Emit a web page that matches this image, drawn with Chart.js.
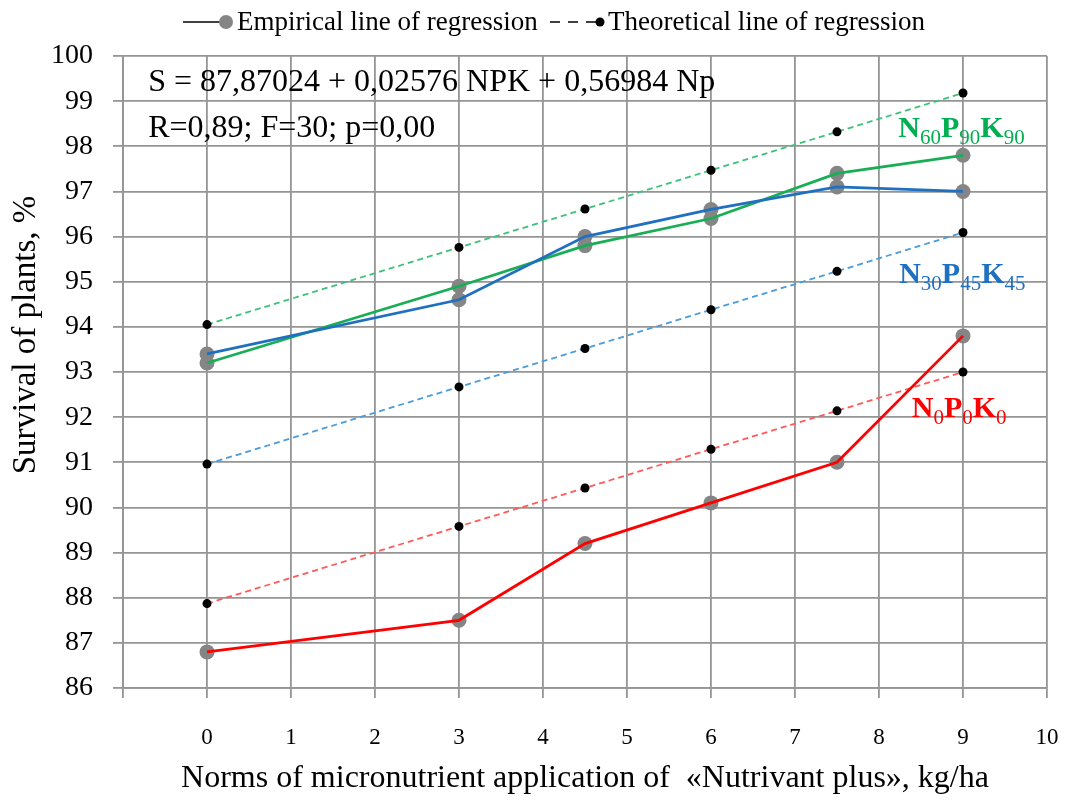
<!DOCTYPE html>
<html>
<head>
<meta charset="utf-8">
<script src="https://cdn.jsdelivr.net/npm/chart.js@4.4.1/dist/chart.umd.min.js"></script>
<style>
  body { margin: 0; background: #fff; }
  #wrap { width: 1067px; height: 802px; }
</style>
</head>
<body>
<div id="wrap"><canvas id="survivalChart" width="1067" height="802"></canvas></div>
<script>
// normes d'application (kg/ha)
const normes = [0, 3, 4.5, 6, 7.5, 9];

// survie empirique, %
const empN0P0K0 = [86.8, 87.5, 89.2, 90.1, 91.0, 93.8];
const empN30P45K45 = [93.4, 94.6, 96.0, 96.6, 97.1, 97.0];
const empN60P90K90 = [93.2, 94.9, 95.8, 96.4, 97.4, 97.8];

// survie théorique (droite de régression), %
const theoN0P0K0 = [87.87, 89.58, 90.43, 91.29, 92.14, 93.00];
const theoN30P45K45 = [90.96, 92.67, 93.52, 94.38, 95.23, 96.09];
const theoN60P90K90 = [94.05, 95.76, 96.61, 97.47, 98.32, 99.18];

// graduations
const xTickValues = [0, 1, 2, 3, 4, 5, 6, 7, 8, 9, 10];
const yTickValues = [86, 87, 88, 89, 90, 91, 92, 93, 94, 95, 96, 97, 98, 99, 100];

const legendLabels = ["Empirical line of regression", "Theoretical line of regression"];
const equationText = "S = 87,87024 + 0,02576 NPK + 0,56984 Np";
const statsText = "R=0,89; F=30; p=0,00";
const yTitle = "Survival of plants, %";

const SERIF = "'Liberation Serif', 'Times New Roman', serif";
Chart.defaults.font.family = SERIF;
Chart.defaults.color = "#000";

function pts(ys) {
  return normes.map(function (x, i) { return { x: x, y: ys[i] }; });
}

function empLine(ys, color) {
  return { data: pts(ys), showLine: true, borderColor: color, borderWidth: 2.8, pointRadius: 0,
           tension: 0, order: 1 };
}
function empMarkers(ys) {
  return { data: pts(ys), showLine: false, pointRadius: 7.5, pointBackgroundColor: "#858585",
           pointBorderWidth: 0, order: 3 };
}
function theoLine(ys, color) {
  return { data: pts(ys), showLine: true, borderColor: color, borderWidth: 1.8, borderDash: [6, 4],
           tension: 0, pointRadius: 4.5, pointBackgroundColor: "#000", pointBorderWidth: 0, order: 2 };
}

// texte avec indices (N60P90K90 ...)
function drawSub(ctx, parts, x, y, color) {
  ctx.fillStyle = color;
  ctx.textAlign = "left";
  ctx.textBaseline = "alphabetic";
  parts.forEach(function (p, i) {
    const isSub = i % 2 === 1;
    ctx.font = isSub ? "21px " + SERIF : "bold 30px " + SERIF;
    ctx.fillText(p, x, isSub ? y + 7 : y);
    x += ctx.measureText(p).width;
  });
}

const textPlugin = {
  id: "textPlugin",
  afterDraw: function (chart) {
    const ctx = chart.ctx;
    const xs = chart.scales.x, ys = chart.scales.y;
    ctx.save();

    // légende
    const ly = 22;
    ctx.strokeStyle = "#000";
    ctx.lineWidth = 1.5;
    ctx.beginPath(); ctx.moveTo(183, ly); ctx.lineTo(225, ly); ctx.stroke();
    ctx.fillStyle = "#858585";
    ctx.beginPath(); ctx.arc(226, ly, 7, 0, Math.PI * 2); ctx.fill();
    ctx.setLineDash([10, 8]);
    ctx.beginPath(); ctx.moveTo(550, ly); ctx.lineTo(600, ly); ctx.stroke();
    ctx.setLineDash([]);
    ctx.fillStyle = "#000";
    ctx.beginPath(); ctx.arc(600, ly, 4.5, 0, Math.PI * 2); ctx.fill();
    ctx.font = "27px " + SERIF;
    ctx.textBaseline = "middle";
    ctx.textAlign = "left";
    ctx.fillText(legendLabels[0], 237, ly + 1);
    ctx.fillText(legendLabels[1], 608, ly + 1);

    // titre de l'axe y
    ctx.save();
    ctx.translate(26, 335);
    ctx.rotate(-Math.PI / 2);
    ctx.textAlign = "center";
    ctx.font = "33px " + SERIF;
    ctx.fillText(yTitle, 0, 0);
    ctx.restore();

    // équation de régression
    ctx.font = "32px " + SERIF;
    ctx.fillText(equationText, xs.getPixelForValue(-0.7), ys.getPixelForValue(99.4));
    ctx.fillText(statsText, xs.getPixelForValue(-0.7), ys.getPixelForValue(98.4));

    // étiquettes des séries
    drawSub(ctx, ["N", "60", "P", "90", "K", "90"], xs.getPixelForValue(8.23), ys.getPixelForValue(98.2), "#00B050");
    drawSub(ctx, ["N", "30", "P", "45", "K", "45"], xs.getPixelForValue(8.24), ys.getPixelForValue(94.97), "#1F70C1");
    drawSub(ctx, ["N", "0", "P", "0", "K", "0"], xs.getPixelForValue(8.39), ys.getPixelForValue(92.0), "#FF0000");
    ctx.restore();
  }
};

window.addEventListener("DOMContentLoaded", function () {
  const ctx = document.getElementById("survivalChart").getContext("2d");

  new Chart(ctx, {
    type: "scatter",
    data: {
      datasets: [
        empMarkers(empN0P0K0),
        empMarkers(empN30P45K45),
        empMarkers(empN60P90K90),
        theoLine(theoN0P0K0, "#FF5A5A"),
        theoLine(theoN30P45K45, "#4A9CDB"),
        theoLine(theoN60P90K90, "#3CC27A"),
        empLine(empN0P0K0, "#FF0000"),
        empLine(empN30P45K45, "#1F70C1"),
        empLine(empN60P90K90, "#19AE55")
      ]
    },
    options: {
      responsive: false,
      animation: false,
      events: [],
      layout: { padding: { left: 0, right: 20, top: 56, bottom: 0 } },
      plugins: { legend: { display: false }, tooltip: { enabled: false } },
      scales: {
        x: {
          type: "linear",
          min: -1,
          max: 10,
          afterFit: function (s) { s.height = 114; s.paddingLeft = 0; s.paddingRight = 0; },
          afterBuildTicks: function (s) {
            s.ticks = [-1].concat(xTickValues).map(function (v) { return { value: v }; });
          },
          ticks: {
            font: { size: 23 },
            padding: 26,
            maxRotation: 0,
            callback: function (v) { return v < 0 ? "" : String(v); }
          },
          grid: { color: "#959595", lineWidth: 1.8, tickLength: 10 },
          border: { color: "#959595", width: 1.8 },
          title: {
            display: true,
            text: "Norms of micronutrient application of  «Nutrivant plus», kg/ha",
            font: { size: 32 },
            padding: { top: 0, bottom: 4 }
          }
        },
        y: {
          min: 86,
          max: 100,
          afterFit: function (s) { s.width = 123; s.paddingTop = 0; s.paddingBottom = 0; },
          afterBuildTicks: function (s) {
            s.ticks = yTickValues.map(function (v) { return { value: v }; });
          },
          ticks: { font: { size: 28 }, padding: 20 },
          grid: { color: "#959595", lineWidth: 1.8, tickLength: 10 },
          border: { color: "#959595", width: 1.8 }
        }
      }
    },
    plugins: [textPlugin]
  });
});
</script>
</body>
</html>
